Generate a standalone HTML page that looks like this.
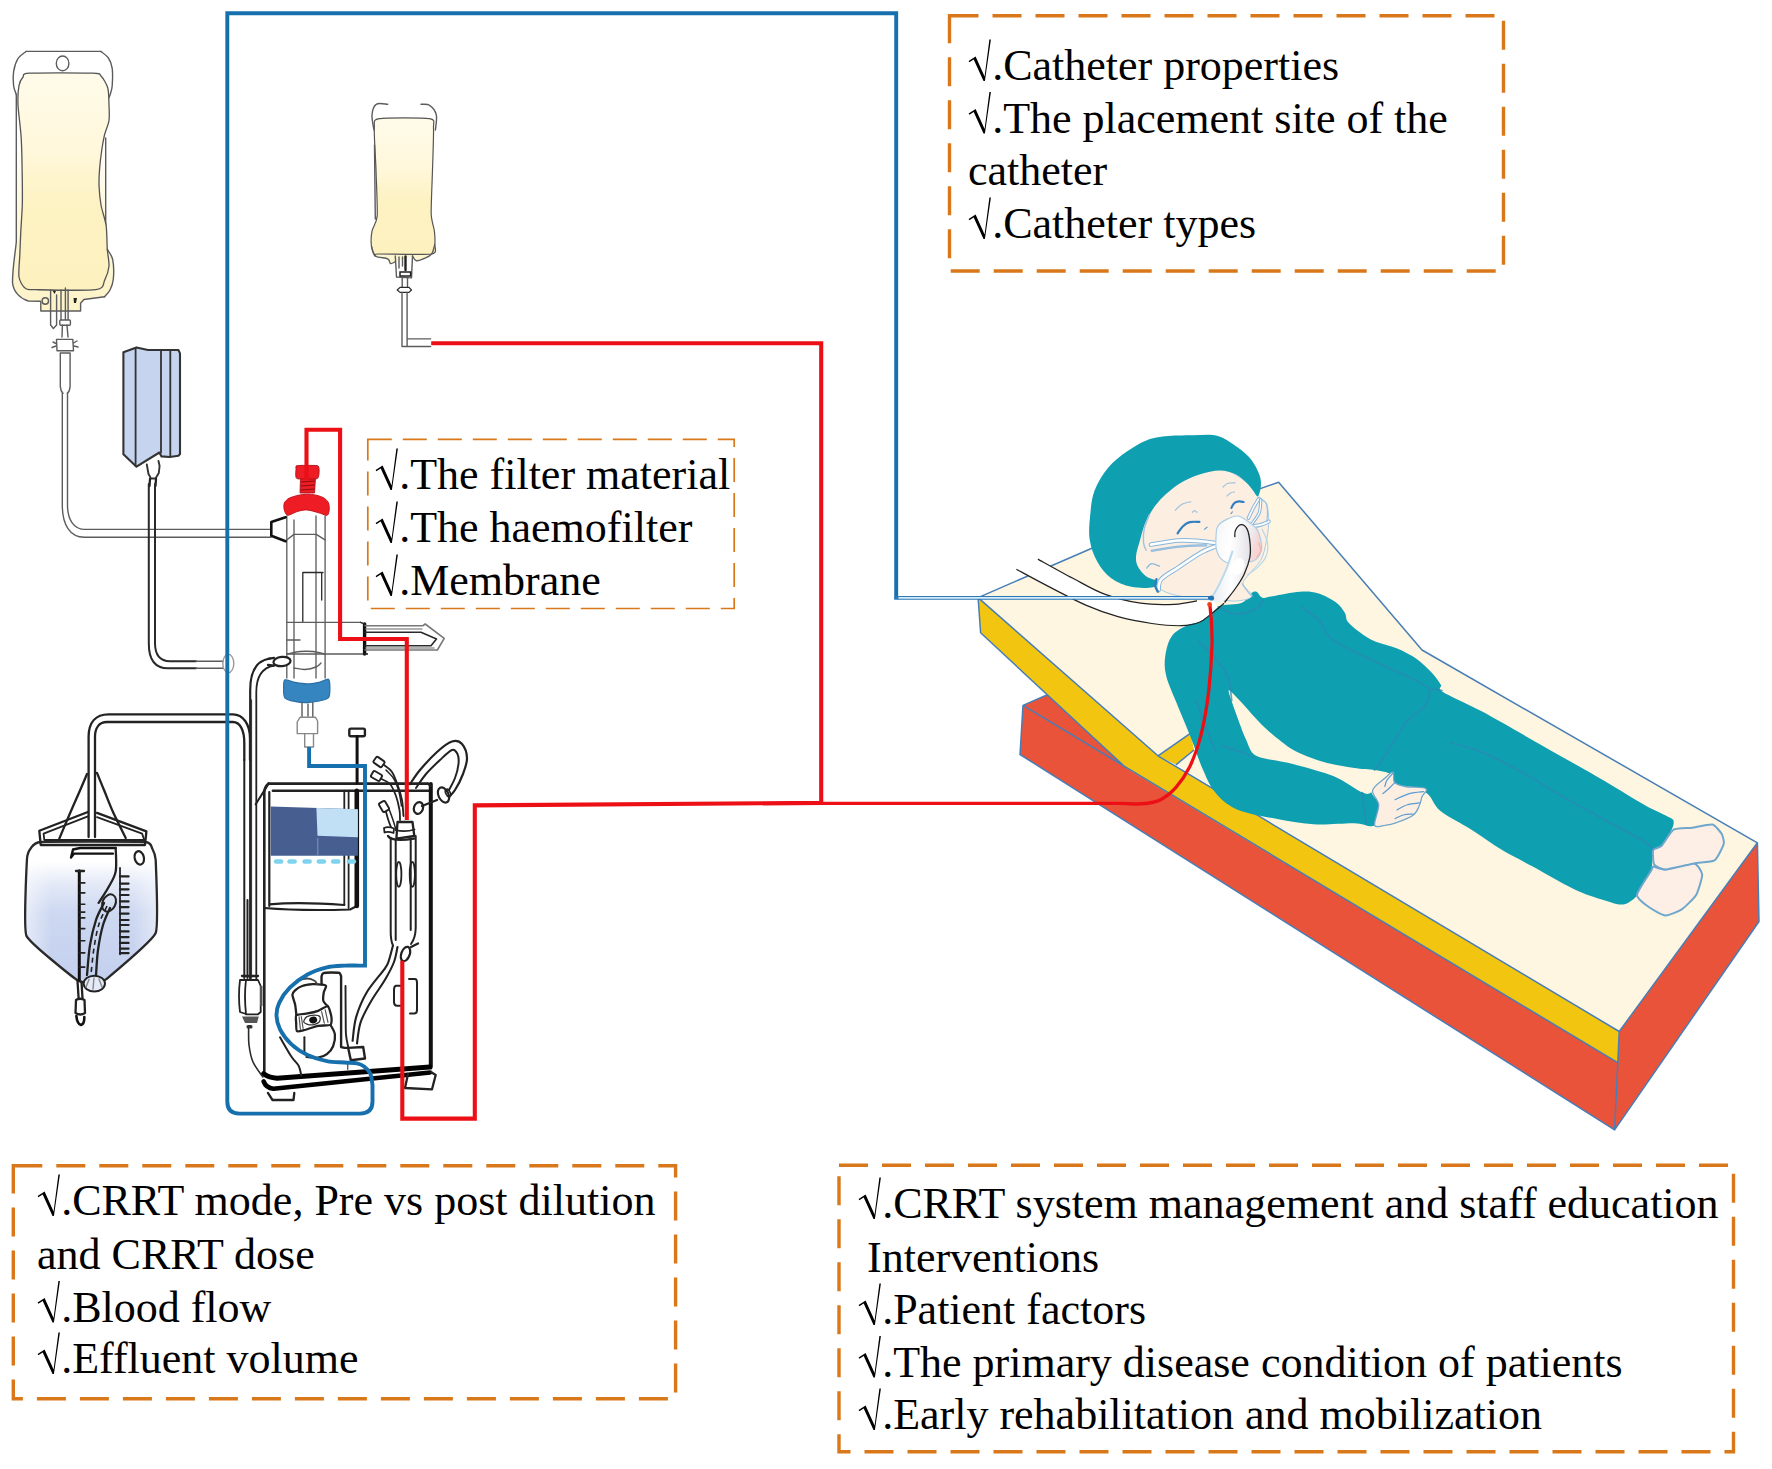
<!DOCTYPE html>
<html><head><meta charset="utf-8"><title>CRRT</title>
<style>
html,body{margin:0;padding:0;background:#fff;}
body{width:1772px;height:1469px;overflow:hidden;position:relative;font-family:"Liberation Serif",serif;}
svg{position:absolute;left:0;top:0;}
text{font-family:"Liberation Serif",serif;font-size:44px;fill:#000;}
.bx{fill:none;stroke:#d9781a;}
.k{fill:none;stroke:#2a2a2a;stroke-width:1.5;stroke-linecap:round;stroke-linejoin:round;}
.k2{fill:none;stroke:#222;stroke-width:2.3;stroke-linecap:round;stroke-linejoin:round;}
.k3{fill:none;stroke:#111;stroke-width:3.2;stroke-linecap:round;stroke-linejoin:round;}
.g{fill:none;stroke:#5c5c5c;stroke-width:1.4;stroke-linecap:round;stroke-linejoin:round;}
.bl{fill:none;stroke:#1770ae;stroke-width:3.9;stroke-linejoin:miter;}
.rd{fill:none;stroke:#ec1016;stroke-width:4.1;stroke-linejoin:miter;}
</style></head><body>
<svg width="1772" height="1469" viewBox="0 0 1772 1469">
<g id="bed"><path fill="#e9533a" d="M1023,705.4 L1047.4,694.8 L1160,760 L1126.4,768.2Z"/>
<path fill="#e9533a" d="M1023,705.4 L1617.8,1062.7 L1614.6,1129.9 L1020,754.5Z"/>
<path fill="#e9533a" d="M1619.2,1031.5 L1757.4,842.8 L1759,921.5 L1614.6,1129.9Z"/>
<path fill="#fef6e1" d="M1176,764.8 L1194,750 L1300,690 L1400,640 L1422,650 L1757.4,842.8 L1619.2,1031.5Z"/>
<path fill="#f2c511" d="M978.1,597.6 L1158,755.8 L1619.2,1031.5 L1617.8,1062.7 L1126.4,768.2 L980.6,632.8Z"/>
<path fill="#f2c511" d="M1158,755.8 L1190.7,733.2 L1194,750 L1176,764.8Z"/>
<path fill="#fef6e1" d="M978.1,597.6 L1100,544.7 L1278.6,482.2 L1422,650 L1300,690 L1190.7,733.2 L1158,755.8Z"/>
<path fill="none" stroke="#477eb7" stroke-width="1.5" stroke-linejoin="round" d="M978.1,597.6 L1100,544.7 L1278.6,482.2 L1422,650 L1757.4,842.8 L1619.2,1031.5 L1617.8,1062.7 L1614.6,1129.9 L1020,754.5 L1023,705.4 L1617.8,1062.7 M978.1,597.6 L1158,755.8 L1619.2,1031.5 M978.1,597.6 L980.6,632.8 L1126.4,768.2 M1023,705.4 L1047.4,694.8 M1757.4,842.8 L1759,921.5 L1614.6,1129.9 M1158,755.8 L1190.7,733.2 M1176,764.8 L1194,750"/></g>
<g id="patient"><path fill="#0e9fb0" d="M1217.4,606.8 C1225.9,603.4 1236.3,605 1241.9,602.7 C1247.5,600.5 1248.8,595.1 1251.2,593.3 C1253.6,591.5 1254.6,591.1 1256.5,591.8 C1258.4,592.5 1259.8,597 1262.5,597.7 C1265.2,598.4 1266.7,597.2 1272.9,596.2 C1279.1,595.2 1292.4,592.3 1299.9,591.8 C1307.4,591.3 1311.9,591.6 1317.9,593.3 C1323.9,595 1331.3,599 1335.8,602.2 C1340.3,605.4 1342.8,609.5 1344.8,612.7 C1346.8,616 1345.3,618.5 1347.8,621.7 C1350.3,625 1355.3,629 1359.8,632.2 C1364.3,635.5 1368.5,638.5 1374.7,641.2 C1380.9,643.9 1390.2,645.6 1397.2,648.6 C1404.2,651.6 1411,655.1 1416.7,659.1 C1422.4,663.1 1427.6,668.3 1431.6,672.6 C1435.6,676.9 1438.9,681.5 1440.8,684.7 C1442.7,687.9 1436.1,687.5 1442.9,691.9 C1449.7,696.3 1465,702.3 1481.7,711.3 C1498.4,720.3 1522.5,734.4 1542.9,746 C1563.3,757.6 1587.2,770.8 1604.2,780.7 C1621.2,790.6 1634.1,799.1 1645,805.2 C1655.9,811.3 1664.8,814.7 1669.6,817.4 C1674.4,820.1 1673.3,819.5 1673.6,821.5 C1673.9,823.5 1673.6,825.6 1671.6,829.7 C1669.6,833.8 1664.5,842.6 1661.4,846 C1658.3,849.4 1654.9,846 1653.2,850.1 C1651.5,854.2 1653.2,863.7 1651.2,870.5 C1649.2,877.3 1645.4,885.4 1641,891 C1636.6,896.6 1630.7,902.7 1624.6,904.2 C1618.5,905.7 1612.7,902.8 1604.2,900.2 C1595.7,897.7 1585.5,894.5 1573.6,888.9 C1561.7,883.3 1544.6,873 1532.7,866.5 C1520.8,860 1512.3,856.2 1502.1,850.1 C1491.9,844 1481.7,836.2 1471.5,829.7 C1461.3,823.2 1448.3,817.4 1440.8,811.3 C1433.3,805.2 1432.5,797.2 1426.5,793 C1420.5,788.8 1414,786.4 1405,786 C1396,785.6 1377,787.4 1372.6,790.5 C1368.2,793.6 1378.4,799 1378.7,804.8 C1379,810.6 1378.7,822.2 1374.6,825.3 C1370.5,828.4 1364.4,823.4 1354.2,823.2 C1344,823 1327,825.1 1313.4,824.2 C1299.8,823.4 1285.4,820.7 1272.5,818.1 C1259.6,815.5 1245.3,813.1 1235.8,808.9 C1226.3,804.6 1220.8,799.1 1215.3,792.6 C1209.8,786.1 1207.2,779.3 1203.1,770.1 C1199,760.9 1195.2,748.6 1190.8,737.4 C1186.4,726.2 1180.6,712.9 1176.5,702.7 C1172.4,692.5 1168.2,684 1166.3,676.2 C1164.4,668.4 1164.3,662.6 1165.3,655.8 C1166.3,649 1168.2,640.8 1172.5,635.3 C1176.8,629.8 1183.3,627.9 1190.8,623.1 C1198.3,618.4 1208.9,610.2 1217.4,606.8Z"/>
<path fill="#fef6e1" d="M1228.6,690.5 C1229.1,688.9 1235.1,695.8 1239.9,700.7 C1244.7,705.6 1257.3,720.7 1264.4,727.2 C1271.5,733.7 1285,745.1 1292.9,749.7 C1300.8,754.3 1315.4,759.5 1323.6,762 C1331.8,764.5 1347.4,767 1354.2,768.1 C1361,769.2 1369.8,769.2 1374.6,770.1 C1379.4,771 1390.3,772.1 1390,775 C1389.7,777.9 1375.7,789.7 1372,792 C1368.3,794.3 1367.5,794.7 1362.4,792.6 C1357.3,790.5 1343.1,780 1333.8,776.2 C1324.5,772.4 1303.2,766.7 1292.9,764 C1282.6,761.3 1262.5,759.1 1256.2,755.8 C1249.9,752.5 1248.7,745.2 1246,739.5 C1243.3,733.8 1238.1,719.4 1235.8,712.9 C1233.5,706.4 1228.1,692.1 1228.6,690.5Z"/>
<path fill="#fdeee2" stroke="#6fa6cc" stroke-width="1.3" d="M1372.6,790.5 C1373.6,786.1 1381.4,781.3 1384.8,778.3 C1388.2,775.2 1391.4,771.5 1393,772.2 C1394.6,772.9 1392.5,780 1394.6,782.4 C1396.6,784.8 1400.1,785.5 1405.3,786.5 C1410.5,787.5 1422.9,786.8 1425.7,788.5 C1428.5,790.2 1423,794 1422,796.7 C1421,799.4 1421,801.8 1419.6,804.8 C1418.2,807.8 1417.5,811.9 1413.4,815 C1409.3,818.1 1399.8,821.5 1395,823.2 C1390.2,824.9 1388.2,824.9 1384.8,825.3 C1381.4,825.6 1375.6,828.7 1374.6,825.3 C1373.6,821.9 1379,810.6 1378.7,804.8 C1378.4,799 1371.6,794.9 1372.6,790.5Z"/>
<path fill="none" stroke="#2c88b6" stroke-width="1.7" stroke-opacity="0.75" stroke-linecap="round" d="M1199,641.5 C1201,643.5 1206.5,647.9 1211.3,653.7 C1216.1,659.5 1224.2,668.4 1227.6,676.2 C1231,684 1231,696.6 1231.7,700.7"/>
<path fill="none" stroke="#2c88b6" stroke-width="1.7" stroke-opacity="0.75" stroke-linecap="round" d="M1301.1,606.8 C1304.2,609.2 1314.7,616 1319.5,621.1 C1324.3,626.2 1323.9,632.3 1329.7,637.4 C1335.5,642.5 1345,646.9 1354.2,651.7 C1363.4,656.5 1374.6,661.2 1384.8,666 C1395,670.8 1408,676.6 1415.5,680.3 C1423,684 1425.4,686.7 1429.8,688.4 C1434.2,690.1 1440,690.1 1442,690.5"/>
<path fill="none" stroke="#2c88b6" stroke-width="1.7" stroke-opacity="0.75" stroke-linecap="round" d="M1429.8,690.5 C1429.1,692.9 1429.8,699.3 1425.7,704.8 C1421.6,710.2 1410.4,717.4 1405.3,723.2 C1400.2,729 1399.1,733 1395,739.5 C1390.9,746 1384.2,756.9 1380.8,762 C1377.4,767.1 1375.6,768.8 1374.6,770.1"/>
<path fill="none" stroke="#2c88b6" stroke-width="1.7" stroke-opacity="0.75" stroke-linecap="round" d="M1451.1,742.9 C1456.2,744.4 1469.8,747.2 1481.7,752.1 C1493.6,757 1508.9,765 1522.5,772.5 C1536.1,780 1549.8,789.2 1563.4,797 C1577,804.8 1590.6,812 1604.2,819.5 C1617.8,827 1636.8,836.9 1645,842 C1653.2,847.1 1651.8,848.8 1653.2,850.1"/>
<path fill="none" stroke="#2c88b6" stroke-width="1.7" stroke-opacity="0.75" stroke-linecap="round" d="M1217.4,606.8 C1220.5,608 1229.3,613.6 1235.8,613.9 C1242.3,614.2 1251.6,611 1256.2,608.8 C1260.8,606.6 1262.1,602 1263.3,600.6"/>
<path fill="none" stroke="#2c88b6" stroke-width="1.7" stroke-opacity="0.75" stroke-linecap="round" d="M1362.4,792.6 C1362.7,795.7 1363.7,805.9 1364.4,811 C1365.1,816.1 1366.2,821.2 1366.5,823.2"/>
<path fill="none" stroke="#2c88b6" stroke-width="1.7" stroke-opacity="0.75" stroke-linecap="round" d="M1221.5,745.6 C1225.6,747 1240.6,751.8 1246,753.8 C1251.4,755.8 1252.8,757.2 1254.1,757.9"/>
<path fill="none" stroke="#2c88b6" stroke-width="1.7" stroke-opacity="0.75" stroke-linecap="round" d="M1196,700 C1197.5,704.2 1201.7,716.3 1205,725 C1208.3,733.7 1214.2,747.5 1216,752"/>
<path fill="none" stroke="#5b9bd0" stroke-width="1.2" stroke-linecap="round" d="M1395,782.4 C1394,783.4 1390.9,786.6 1388.9,788.5 C1386.9,790.4 1383.8,792.8 1382.8,793.6"/>
<path fill="none" stroke="#5b9bd0" stroke-width="1.2" stroke-linecap="round" d="M1423.6,791.6 C1421.2,791.9 1414.1,792.2 1409.3,793.6 C1404.5,795 1397.4,798.7 1395,799.7"/>
<path fill="none" stroke="#5b9bd0" stroke-width="1.2" stroke-linecap="round" d="M1419.6,802.8 C1417.5,803.1 1411,803.6 1407.3,804.8 C1403.5,806 1398.8,809 1397.1,809.9"/>
<path fill="none" stroke="#5b9bd0" stroke-width="1.2" stroke-linecap="round" d="M1413.4,814 C1411.7,814.2 1406.3,814.2 1403.2,815 C1400.1,815.8 1396.4,818.1 1395,818.7"/>
<path fill="none" stroke="#5b9bd0" stroke-width="1.2" stroke-linecap="round" d="M1393,773.2 C1392,774.4 1388.3,778.1 1386.9,780.3 C1385.5,782.5 1385.2,785.5 1384.8,786.5"/>
<path fill="#fdeee6" stroke="#6fa6cc" stroke-width="2" d="M1653.2,866.5 C1654.5,866.4 1661.7,869.8 1665.5,869.5 C1669.3,869.2 1690.6,862.9 1694,863.4 C1697.4,863.9 1702,871.7 1702.2,874.6 C1702.4,877.5 1698,891.8 1696.1,895 C1694.2,898.2 1684.7,907.4 1681.8,909.3 C1678.9,911.2 1668.6,915.7 1665.5,915.5 C1662.4,915.3 1651.8,909.2 1649.1,907.3 C1646.4,905.4 1636.7,898.4 1636.9,895 C1637.1,891.6 1649.7,873.2 1651.2,870.5 C1652.7,867.8 1651.9,866.6 1653.2,866.5Z"/>
<path fill="#fdeee6" stroke="#6fa6cc" stroke-width="2" d="M1673.6,829.7 C1676.5,828 1688.4,828.2 1692,827.7 C1695.6,827.2 1709.6,824 1712.4,824.6 C1715.2,825.2 1720.5,832 1721.6,833.8 C1722.7,835.6 1724.4,841.5 1723.7,844 C1723,846.5 1717.3,858.5 1714.5,860.3 C1711.7,862.1 1698.6,862.5 1694,863.4 C1689.4,864.3 1669.2,869.4 1665.5,869.5 C1661.8,869.6 1655.3,866.2 1654.2,864.4 C1653.1,862.6 1652.5,851.8 1653.2,850.1 C1653.9,848.4 1659.5,847.9 1661.4,846 C1663.3,844.1 1670.7,831.4 1673.6,829.7Z"/></g>
<g id="head"><path fill="#fdeee2" stroke="#a9cde6" stroke-width="1" d="M1146.3,515.3 C1152.9,505.5 1166.7,489 1178.9,481.3 C1191.2,473.6 1208.5,468.8 1219.8,469 C1231.1,469.2 1240.5,478.1 1247,482.6 C1253.5,487.2 1255.3,492.7 1258.6,496.3 C1261.9,499.9 1265.1,499.9 1266.8,504.4 C1268.5,508.9 1268.7,517.1 1268.6,523.5 C1268.5,529.9 1267.4,536.5 1266.1,542.6 C1264.8,548.7 1263.9,554.6 1260.7,560.3 C1257.5,566 1249.9,572.5 1247,576.6 C1244.1,580.7 1242.4,581.5 1243.2,584.8 C1244,588.1 1253.4,593.7 1251.8,596.4 C1250.2,599.1 1241,601 1233.4,601.1 C1225.8,601.2 1214.1,597.7 1206.2,597 C1198.3,596.3 1192.6,597.9 1185.8,597 C1179,596.1 1171,594.4 1165.3,591.9 C1159.6,589.4 1156.2,586.1 1151.7,582.1 C1147.2,578.1 1140.8,572.1 1138.1,567.8 C1135.4,563.5 1135.2,560.9 1135.4,556.2 C1135.6,551.5 1137.7,546.6 1139.5,539.8 C1141.3,533 1139.7,525 1146.3,515.3Z"/>
<path fill="none" stroke="#9cc4e0" stroke-width="1.2" d="M1241.9,583.4 C1242.5,584.3 1244.1,586.7 1245.7,588.9 C1247.3,591.1 1250.8,595.1 1251.8,596.4"/>
<path fill="#0e9fb0" d="M1146.3,440.4 C1152.6,437.9 1157.6,437.1 1165.3,436.3 C1173,435.5 1184,435.4 1192.6,435.3 C1201.2,435.2 1209.6,433.7 1217.1,435.7 C1224.6,437.7 1231.8,443.2 1237.5,447.2 C1243.2,451.2 1247.5,454.9 1251.1,459.5 C1254.7,464.1 1257.7,470.2 1259.3,474.5 C1260.9,478.8 1261.1,481.8 1260.9,485.4 C1260.7,489 1259.2,495.4 1257.9,496.3 C1256.6,497.2 1255,493 1253.2,490.8 C1251.4,488.6 1249.8,486 1247,483.3 C1244.2,480.6 1240.6,476.6 1236.1,474.5 C1231.6,472.4 1225.9,470.4 1219.8,470.4 C1213.7,470.4 1206.2,472.2 1199.4,474.5 C1192.6,476.8 1185.7,479.5 1178.9,484 C1172.1,488.5 1163.9,495.6 1158.5,501.7 C1153.1,507.8 1149.4,514.4 1146.3,520.8 C1143.2,527.1 1141.8,533.9 1140.1,539.8 C1138.4,545.7 1136.3,551.7 1136,556.2 C1135.7,560.8 1136.4,563.7 1138.1,567.1 C1139.8,570.5 1143.1,574.2 1146.3,576.6 C1149.5,579 1156.1,579.6 1157.2,581.4 C1158.3,583.2 1157.4,586.3 1153.1,587.2 C1148.8,588.1 1138.3,588.3 1131.3,586.8 C1124.3,585.3 1116.6,582.2 1110.9,578 C1105.2,573.8 1100.7,568 1097.2,561.6 C1093.7,555.2 1090.9,547.5 1089.7,539.8 C1088.5,532.1 1089.4,523.5 1090.2,515.3 C1091,507.1 1091.5,498.7 1094.5,490.8 C1097.5,482.9 1102.6,474.3 1108.1,467.7 C1113.5,461.1 1120.8,455.9 1127.2,451.3 C1133.6,446.8 1140,442.9 1146.3,440.4Z"/>
<path fill="none" stroke="#8ab9dc" stroke-width="1.3" d="M1146.3,568.4 C1147.2,567.6 1149.4,564 1151.7,563.7 C1154,563.4 1158.5,566 1159.9,566.4"/>
<path fill="none" stroke="#9cc4e0" stroke-width="1.2" d="M1174.9,510.6 C1176,509.6 1179,505.9 1181.7,504.4 C1184.4,502.9 1189.6,502.1 1191.2,501.7"/>
<path fill="none" stroke="#9cc4e0" stroke-width="1.2" d="M1222.5,487.4 C1223.4,486.7 1225.8,484.1 1228,483.3 C1230.2,482.6 1234.2,483 1235.5,482.9"/>
<path fill="none" stroke="#9cc4e0" stroke-width="1.1" d="M1226.6,496.3 C1227.3,495.7 1229.3,493.6 1230.7,492.9 C1232.1,492.2 1234.1,492.1 1234.8,491.9"/>
<path fill="none" stroke="#2f7fc0" stroke-width="2.2" stroke-linecap="round" d="M1177.6,533.3 C1178.5,532.1 1181,528.1 1183,526.2 C1185,524.3 1187.1,522.8 1189.8,522.1 C1192.5,521.4 1197.8,521.9 1199.4,521.9"/>
<path fill="none" stroke="#2f7fc0" stroke-width="2.2" stroke-linecap="round" d="M1231.4,507.8 C1231.9,507.1 1232.8,504.4 1234.1,503.3 C1235.3,502.2 1237.3,501.6 1238.9,501.4 C1240.5,501.2 1242.8,501.9 1243.6,502"/>
<path fill="none" stroke="#5a9bd0" stroke-width="1.2" d="M1230.7,514 L1232.7,511.5"/>
<path fill="none" stroke="#5a9bd0" stroke-width="1.2" d="M1204.1,529.6 L1207.5,526.9"/>
<path fill="none" stroke="#9cc4e0" stroke-width="1.1" d="M1191.9,512.6 C1192.4,512.3 1193.7,510.6 1194.6,510.6 C1195.5,510.6 1196.8,512.3 1197.3,512.6"/>
<path fill="none" stroke="#86b6dc" stroke-width="3.6" stroke-linecap="round" d="M1248.4,518.1 C1249.3,516.3 1252.1,510.4 1253.8,507.2 C1255.5,504 1257.8,500.4 1258.6,499"/>
<path fill="none" stroke="#ffffff" stroke-width="1.6" stroke-linecap="round" d="M1248.4,518.1 C1249.3,516.3 1252.1,510.4 1253.8,507.2 C1255.5,504 1257.8,500.4 1258.6,499"/>
<path fill="none" stroke="#86b6dc" stroke-width="3.2" stroke-linecap="round" d="M1251.1,524.9 C1252.5,522.9 1257.7,516.8 1259.3,512.6 C1260.9,508.4 1260.5,501.9 1260.7,499.7"/>
<path fill="none" stroke="#ffffff" stroke-width="1.2000000000000002" stroke-linecap="round" d="M1251.1,524.9 C1252.5,522.9 1257.7,516.8 1259.3,512.6 C1260.9,508.4 1260.5,501.9 1260.7,499.7"/>
<path fill="none" stroke="#86b6dc" stroke-width="4" stroke-linecap="round" d="M1252.5,526.2 C1253.9,526 1258,525.7 1260.7,524.9 C1263.4,524.1 1267.5,522.1 1268.8,521.5"/>
<path fill="none" stroke="#ffffff" stroke-width="2" stroke-linecap="round" d="M1252.5,526.2 C1253.9,526 1258,525.7 1260.7,524.9 C1263.4,524.1 1267.5,522.1 1268.8,521.5"/>
<path fill="none" stroke="#9cc4e0" stroke-width="1.2" d="M1260.7,499.7 C1261.6,500.3 1265,501 1266.1,503.1 C1267.2,505.2 1267.4,509.4 1267.5,512.6 C1267.6,515.8 1266.9,520.5 1266.8,522.1"/>
<path fill="none" stroke="#86b6dc" stroke-width="4.6" stroke-linecap="round" d="M1151,544.6 C1155.7,543.9 1170.6,541.1 1178.9,540.5 C1187.2,539.9 1194.3,540.8 1200.7,541.2 C1207.1,541.7 1214.4,542.9 1217.1,543.2"/>
<path fill="none" stroke="#ffffff" stroke-width="2.5999999999999996" stroke-linecap="round" d="M1151,544.6 C1155.7,543.9 1170.6,541.1 1178.9,540.5 C1187.2,539.9 1194.3,540.8 1200.7,541.2 C1207.1,541.7 1214.4,542.9 1217.1,543.2"/>
<path fill="none" stroke="#86b6dc" stroke-width="4.6" stroke-linecap="round" d="M1158.5,590.2 C1159,588.4 1157.8,583.1 1161.2,579.3 C1164.6,575.4 1172.3,571.5 1178.9,567.1 C1185.5,562.7 1194.5,556.3 1200.7,552.8 C1207,549.3 1213.8,547.1 1216.4,546"/>
<path fill="none" stroke="#ffffff" stroke-width="2.5999999999999996" stroke-linecap="round" d="M1158.5,590.2 C1159,588.4 1157.8,583.1 1161.2,579.3 C1164.6,575.4 1172.3,571.5 1178.9,567.1 C1185.5,562.7 1194.5,556.3 1200.7,552.8 C1207,549.3 1213.8,547.1 1216.4,546"/>
<path fill="none" stroke="#86b6dc" stroke-width="2.2" stroke-linecap="round" d="M1151.7,550.7 C1156.2,550 1169.8,547.6 1178.9,546.7 C1188,545.8 1201.7,545.5 1206.2,545.3"/>
<path fill="none" stroke="#ffffff" stroke-width="0.20000000000000018" stroke-linecap="round" d="M1151.7,550.7 C1156.2,550 1169.8,547.6 1178.9,546.7 C1188,545.8 1201.7,545.5 1206.2,545.3"/>
<path fill="none" stroke="#9cc4e0" stroke-width="1.4" d="M1149.7,514 C1148.8,516.5 1145.2,524.1 1144.2,528.9 C1143.2,533.7 1143.2,539 1143.5,542.6 C1143.8,546.2 1145.8,549.4 1146.3,550.7"/>
<path fill="none" stroke="#2f7fc0" stroke-width="2.4" stroke-linecap="round" d="M1156.5,579.3 C1156.3,580.3 1154.9,583.5 1155.1,585.5 C1155.3,587.5 1157.3,590.6 1157.8,591.6"/>
<defs><linearGradient id="mk" x1="0" y1="0" x2="1" y2="0.3"><stop offset="0" stop-color="#f4f4f6"/><stop offset="0.45" stop-color="#ffffff"/><stop offset="0.8" stop-color="#ececf0"/><stop offset="1" stop-color="#f6d5d2"/></linearGradient></defs>
<path fill="url(#mk)" stroke="#a9cde6" stroke-width="1.2" d="M1217.8,526.2 C1219.6,523.2 1223.3,521.1 1226.6,519.4 C1229.9,517.7 1234.1,515.8 1237.5,516 C1240.9,516.2 1243.8,518.6 1247,520.8 C1250.2,522.9 1254.3,525.7 1256.6,528.9 C1258.9,532.1 1259.9,536.2 1260.7,539.8 C1261.5,543.4 1262,547.5 1261.3,550.7 C1260.6,553.9 1258.5,557.1 1256.6,558.9 C1254.7,560.7 1251.6,562 1249.8,561.6 C1248,561.2 1247.8,557.1 1245.7,556.2 C1243.7,555.3 1240,555.1 1237.5,556.2 C1235,557.3 1233.4,562.5 1230.7,563 C1228,563.5 1223.6,561.2 1221.2,558.9 C1218.8,556.6 1217.3,553 1216.4,549.4 C1215.5,545.8 1215.8,541 1216,537.1 C1216.2,533.2 1216,529.2 1217.8,526.2Z"/>
<path fill="none" stroke="#b7d6ea" stroke-width="1.2" d="M1262,528.9 C1262.9,531.2 1266.8,538 1267.5,542.6 C1268.2,547.2 1267.7,552.1 1266.1,556.2 C1264.5,560.3 1261.1,563.9 1257.9,567.1 C1254.7,570.3 1248.8,573.9 1247,575.2"/>
<path fill="none" stroke="#f0b8b8" stroke-width="1.5" d="M1258.6,542.6 C1258.9,544 1261,548.2 1260.7,550.7 C1260.4,553.2 1257.3,556.4 1256.6,557.5"/>
<defs><linearGradient id="tb" x1="0" y1="0" x2="1" y2="0"><stop offset="0" stop-color="#e9edf2"/><stop offset="0.5" stop-color="#ffffff"/><stop offset="1" stop-color="#e3e3e8"/></linearGradient></defs>
<path fill="url(#tb)" d="M1235.5,528.9 C1237,526.9 1240.4,524.4 1242.3,524.9 C1244.2,525.4 1245.8,528.3 1247,531.7 C1248.2,535.1 1249.3,540.3 1249.5,545.3 C1249.7,550.3 1249.5,556.1 1248.4,561.6 C1247.3,567.1 1245.5,573 1243,578 C1240.5,583 1236.8,587.8 1233.4,591.6 C1230,595.5 1225.9,599.5 1222.5,601.1 C1219.1,602.7 1213.7,603.4 1213,601.1 C1212.3,598.8 1216.1,592.7 1218.4,587.5 C1220.7,582.3 1224.3,575.9 1226.6,569.8 C1228.9,563.7 1231,556.2 1232.1,550.7 C1233.2,545.2 1232.8,540.7 1233.4,537.1 C1234,533.5 1234,530.9 1235.5,528.9Z"/>
<ellipse cx="1238.1873893504016" cy="566.3979300013618" rx="6" ry="8.5" fill="#ffffff" transform="rotate(20 1238.1873893504016 566.3979300013618)"/>
<path fill="none" stroke="#b9d9ee" stroke-width="2" d="M1232.7,550.7 C1231.7,553.7 1228.8,563 1226.6,568.4 C1224.4,573.8 1222.1,578.8 1219.8,583.4 C1217.5,588 1214.1,593.7 1213,595.7"/>
<path fill="#ffffff" d="M1037.9,559.1 C1043.7,562.3 1061.8,572.5 1072.9,578.3 C1084,584.1 1093.2,590 1104.5,594.1 C1115.8,598.2 1128.9,601.5 1140.6,603.2 C1152.3,604.9 1165.1,604.7 1174.5,604.3 C1183.9,603.9 1193.2,601.5 1197,600.9 L1214,601 L1218,607 L1210.6,614.4 L1199.3,622.3 L1181.2,625.7 L1151.9,623.5 L1118,616.7 L1086.4,605.4 L1050.3,587.4 L1016.4,569.3 Z"/>
<path fill="none" stroke="#222" stroke-width="1.2" d="M1037.9,559.1 C1043.7,562.3 1061.8,572.5 1072.9,578.3 C1084,584.1 1093.2,590 1104.5,594.1 C1115.8,598.2 1128.9,601.5 1140.6,603.2 C1152.3,604.9 1165.1,604.7 1174.5,604.3 C1183.9,603.9 1193.2,601.5 1197,600.9"/>
<path fill="none" stroke="#222" stroke-width="1.2" d="M1016.4,569.3 C1022,572.3 1038.6,581.4 1050.3,587.4 C1062,593.4 1075.1,600.5 1086.4,605.4 C1097.7,610.3 1107.1,613.7 1118,616.7 C1128.9,619.7 1141.4,622 1151.9,623.5 C1162.4,625 1173.3,625.9 1181.2,625.7 C1189.1,625.5 1194.4,624.2 1199.3,622.3 C1204.2,620.4 1206.5,617.6 1210.6,614.4 C1214.7,611.2 1221.8,605.1 1224.1,603.2"/>
<path fill="none" stroke="#222" stroke-width="1.3" d="M1234.8,537.1 C1234.9,536 1234.5,532.4 1235.5,530.3 C1236.5,528.2 1239,524.8 1240.9,524.6 C1242.8,524.4 1245.5,525.9 1247,528.9 C1248.5,531.9 1249.5,537.8 1250,542.6 C1250.5,547.4 1250.8,552.3 1249.8,557.5 C1248.8,562.7 1246.6,568.9 1244.3,573.9 C1242,578.9 1239.4,582.7 1236.1,587.5 C1232.8,592.3 1226.5,600 1224.6,602.5"/></g>
<g id="bags"><defs><linearGradient id="yl" x1="0" y1="0" x2="0" y2="1"><stop offset="0" stop-color="#fffbe9"/><stop offset="0.35" stop-color="#fff8dc"/><stop offset="0.6" stop-color="#fdf2c2"/><stop offset="1" stop-color="#fdf1c0"/></linearGradient></defs>
<defs><linearGradient id="yo" gradientUnits="userSpaceOnUse" x1="0" y1="51" x2="0" y2="311"><stop offset="0" stop-color="#ffffff"/><stop offset="0.32" stop-color="#ffffff"/><stop offset="0.6" stop-color="#fef8de"/><stop offset="1" stop-color="#fdf3c8"/></linearGradient></defs>
<path fill="url(#yo)" d="M26.1,51.4 L100.8,51.4 L108.5,58 L112.2,68.3 L112.2,91.2 L107.8,98.8 L105.7,138 L105.7,249 L112.7,259.7 L113.3,279.3 L110,290 L104.6,296.7 L83.9,299.5 L80.6,303.3 L80.6,311 L40.8,311 L40.8,301.5 L28.3,301 L17,294 L12.5,282.6 L14,262 L16.3,242 L16.3,94.5 L13.6,85 L13.6,71.6 L18,58.5Z"/>
<path class="g" d="M16.3,94.5 C15.9,93 14.1,89.6 13.6,85.8 C13.1,82 12.9,76.1 13.6,71.6 C14.3,67 15.9,61.9 18,58.5 C20.1,55.1 24.8,52.6 26.1,51.4"/>
<path class="g" d="M26.1,51.4 L100.8,51.4"/>
<path class="g" d="M100.8,51.4 C102.1,52.5 106.5,55.2 108.4,58 C110.3,60.8 111.6,63.7 112.2,68.3 C112.8,72.9 112.5,81.4 112.2,85.8 C111.9,90.2 110.9,92.2 110.2,94.5 C109.5,96.8 108.2,98.6 107.8,99.4"/>
<path class="g" d="M16.3,94.5 L16.3,242 C15,255 12.5,268 12.5,282.6 C13.5,292 20,298.5 28.3,301 L40.3,301.3"/>
<path class="g" d="M105.7,138 L105.7,249"/>
<path fill="url(#yl)" stroke="#555" stroke-width="1.3" stroke-linejoin="round" d="M30,73.2 C39.3,72.7 83.1,72.8 92.6,73.2 C102.1,73.6 99,74 101,76 C103,78 106.7,84.1 107.8,88 C108.9,91.9 108.8,100.7 109,105 C109.2,109.3 109.6,116.6 109,120.6 C108.4,124.6 105.4,131.2 104.5,135 C103.6,138.8 102.6,144.3 101.9,149 C101.2,153.7 99.9,164.9 99.5,170 C99.1,175.1 98.9,182.3 99.1,187 C99.3,191.7 100.1,199.8 101,205 C101.9,210.2 105.4,220.1 106.2,226 C107,231.9 106.9,244.1 107.3,249.4 C107.7,254.7 109.4,261.9 109,266 C108.6,270.1 106.3,277.2 104.6,280.4 C102.9,283.6 105,288.5 95.9,289.7 C86.8,290.9 45.5,289.9 36,289.7 C26.5,289.5 27.3,289.7 25,288 C22.7,286.3 19.7,281.4 19,277 C18.3,272.6 19.6,260.8 19.8,255 C20,249.2 20.4,240.3 20.7,233.6 C21,226.9 22.1,211.9 22.3,205 C22.5,198.1 22.4,190.5 22.3,181.6 C22.2,172.7 21.8,148.2 21.2,138 C20.6,127.8 18.3,112 18,105 C17.7,98 18.3,89.4 19,85.7 C19.7,82 21.5,78.7 23,77 C24.5,75.3 20.7,73.7 30,73.2Z"/>
<ellipse cx="62.6" cy="63.4" rx="6.3" ry="7.4" class="g"/>
<path class="g" d="M107.3,249.4 C108.2,251.1 111.7,254.7 112.7,259.7 C113.7,264.7 113.8,274.2 113.3,279.3 C112.8,284.4 111.5,287.1 110,290 C108.5,292.9 105.5,295.6 104.6,296.7"/>
<path class="g" d="M104.6,296.7 L83.9,299.5 L80.6,303.3 L80.6,311 L40.8,311 L40.8,301.5"/>
<circle cx="45.3" cy="301" r="3.2" class="g"/>
<path class="g" d="M50.6,290 V325 L53.4,328.5 L56.6,325 V295"/>
<path class="g" d="M61,290 V320 M65.4,288 V320 M68.1,290 V320"/>
<path fill="#222" d="M52.5,290.5 L56,291 L54.5,294 Z"/>
<path fill="#222" d="M73.5,298 L77,298 L76,303 L74,303 Z"/>
<rect x="59.8" y="320" width="10.6" height="5.2" rx="1" style="fill:#fff" class="g"/>
<path class="g" d="M62.4,325.3 L62,337 M67,325.3 L68,337"/>
<path class="g" d="M56.5,339.4 L72.8,339.4 L73.5,350.8 L57,350.8 Z"/>
<path class="g" d="M53,342 L56,343.5 M52,347.5 L56,346 M73.5,343 L77,341 M74,346 L78,347"/>
<path class="g" d="M60.3,353 V386 Q60.5,391 63,393.3 M70.1,353 V386 Q70,391 67.4,393.3 M60.3,353 H70.1"/>
<path class="g" d="M62.3,393 V505 C62.3,525 70,537.3 84.5,537.3 H271"/>
<path class="g" d="M67.5,393 V505 C67.5,520 74,529.4 85,529.4 H271"/>
<path fill="#c6d4f0" stroke="#333" stroke-width="2.1" stroke-linejoin="round" d="M123.4,352.3 L136.5,347.4 L148,350 L161.5,350 L170.8,350 L178.4,350 L180,353.4 L180,454 L178.4,455.8 L169.7,457 L161.5,456.4 L159.4,452.5 L136.5,466.7 L123.4,454.2Z"/>
<path style="stroke-width:1.8;stroke:#333" class="k2" d="M135.6,348 V466 M161,350 V452.5 M170.3,350 V456"/>
<path style="stroke-width:1.9;stroke:#333" class="k2" d="M146.8,464.5 L148.5,474 L151,478.5 L155.5,478.5 L158.8,473 L159.6,466 L158.5,461"/>
<path class="k2" d="M150,479 L149.5,486 M156,479 L155.5,486"/>
<path style="stroke-width:2;stroke:#2a2a2a" class="k2" d="M148.8,484 V643.5 C148.8,660 155,668.3 168,668.3 H196"/>
<path style="stroke-width:2;stroke:#2a2a2a" class="k2" d="M155,484 V643 C155,655 160,661.2 170,661.2 H196"/>
<path class="g" d="M196,661.2 H223 M196,668.3 H223"/>
<ellipse cx="228.3" cy="663.5" rx="5.5" ry="9.2" style="stroke:#999" class="g"/>
<path fill="#fdf5d0" d="M372,235 L371.5,246.4 L375.3,256 L387.7,258.8 L390.5,263.6 L395.3,261.7 L412.5,256 L416.3,260.7 L424,258.5 L431.6,254 L434.8,244.5 L434.4,232 Z"/>
<path fill="url(#yl)" stroke="#555" stroke-width="1.2" stroke-linejoin="round" d="M379.1,118.6 C385.6,117.5 423.3,117.5 429.6,118.6 C435.9,119.7 433.2,122 433.5,128 C433.8,134 432.8,160 432.5,170 C432.2,180 431,206.9 431.2,214 C431.4,221.1 434,227.4 434.4,231 C434.8,234.6 435.1,241.8 434.8,244.5 C434.5,247.2 438.2,252.9 431.6,254 C425,255.1 384.6,253.8 378,254 C371.4,254.2 376.1,256.9 375.3,256 C374.5,255.1 371.9,249.3 371.5,246.4 C371.1,243.5 371.3,234.7 372,231.1 C372.7,227.5 376.7,223 377.2,215.9 C377.7,208.8 376.3,180.3 376,170 C375.7,159.7 373.9,134 374.3,128 C374.7,122 372.6,119.7 379.1,118.6Z"/>
<path class="g" d="M387.7,104.3 C385.8,104.3 378.8,102.5 376.2,104.3 C373.6,106 372.4,110.5 372,114.8 C371.6,119.1 373.7,127.5 374,130"/>
<path class="g" d="M421,104.3 C422.4,104.5 427.1,103.5 429.6,105.3 C432.2,107 435.3,110.7 436.3,114.8 C437.3,118.9 435.5,127.5 435.4,130"/>
<path class="g" d="M374.5,145 L375.3,219"/>
<path class="g" d="M371.5,246.4 C372.1,248 372.6,253.9 375.3,256 C378,258.1 385.2,257.5 387.7,258.8 C390.2,260.1 389.2,263.1 390.5,263.6 C391.8,264.1 394.5,262 395.3,261.7"/>
<path class="g" d="M434.8,244.5 C434.3,246.1 433.4,251.7 431.6,254 C429.8,256.3 426.6,257.4 424,258.5 C421.4,259.6 418.2,261.1 416.3,260.7 C414.4,260.3 413.1,256.8 412.5,256"/>
<path class="g" d="M395.3,256 L396.5,277 L411.5,277.9 L412.5,256"/>
<path class="g" d="M399,257 V268 M402.5,257 V266"/>
<path style="stroke-width:2.4" class="k2" d="M405.5,256.5 V270"/>
<rect x="400" y="272" width="10.6" height="4" fill="#fff" stroke="#222" stroke-width="1.5"/>
<path class="g" d="M402.2,278 V287.4 M407.5,278 V287.4"/>
<path style="stroke-width:1.2" class="k" d="M397.2,290 L400,287.4 L409,287.4 L411.5,290 L409,292.4 L400,292.4 Z"/>
<path class="g" d="M402,292.4 V346.5 M407.1,292.4 V346.5 M407.1,338.9 H430.6 M402,346.5 H430.6"/></g>
<g id="eff"><defs><linearGradient id="eb" x1="0" y1="0" x2="0" y2="1"><stop offset="0" stop-color="#ffffff"/><stop offset="0.14" stop-color="#ffffff"/><stop offset="0.3" stop-color="#e3e9f7"/><stop offset="0.5" stop-color="#cdd8f1"/><stop offset="1" stop-color="#c3d0ee"/></linearGradient><linearGradient id="eb2" x1="0" y1="0" x2="1" y2="0"><stop offset="0" stop-color="#fff" stop-opacity="0.5"/><stop offset="0.2" stop-color="#fff" stop-opacity="0"/><stop offset="0.82" stop-color="#fff" stop-opacity="0"/><stop offset="1" stop-color="#fff" stop-opacity="0.45"/></linearGradient></defs>
<path fill="url(#eb)" d="M40.7,842 C47.5,841.6 138.3,841.6 145,842 C151.7,842.4 151.4,846.9 152,848 C152.6,849.1 155.5,854.9 155.7,860 C155.9,865.1 158.6,925.9 155.7,933 C152.8,940.1 110.7,975.5 107,978.6 C103.3,981.7 95.8,983.9 94,984 C92.2,984.1 81.1,982.9 77,980 C72.9,977.1 29.4,943 26.4,935.7 C23.4,928.4 26.7,863.9 27,858.6 C27.3,853.3 30.2,849 31,848 C31.8,847 33.9,842.4 40.7,842Z"/>
<path fill="url(#eb2)" stroke="#2a2a2a" stroke-width="2.3" stroke-linejoin="round" d="M40.7,842 C47.5,841.6 138.3,841.6 145,842 C151.7,842.4 151.4,846.9 152,848 C152.6,849.1 155.5,854.9 155.7,860 C155.9,865.1 158.6,925.9 155.7,933 C152.8,940.1 110.7,975.5 107,978.6 C103.3,981.7 95.8,983.9 94,984 C92.2,984.1 81.1,982.9 77,980 C72.9,977.1 29.4,943 26.4,935.7 C23.4,928.4 26.7,863.9 27,858.6 C27.3,853.3 30.2,849 31,848 C31.8,847 33.9,842.4 40.7,842Z"/>
<path class="k2" d="M88.6,837 V737 C88.6,722 96,714.3 108.6,714.3 H232.9 C243,714.3 250,724 250,738.6 V760"/>
<path class="k2" d="M95,837 V737 C95,728 99,722 107,722 H232.9 C240,722 244.3,730 244.3,742.9 V760"/>
<path class="k2" d="M87,774 C85.5,777.5 81.2,787.7 78,795 C74.8,802.3 71.1,810.7 68,818 C64.9,825.3 60.8,835.2 59.3,838.6"/>
<path class="k2" d="M97,772.9 C98.2,775.8 101.3,783.5 104,790 C106.7,796.5 109.4,804 113,812 C116.6,820 123.6,833.6 125.7,837.9"/>
<path class="k2" d="M87.9,812 L39.3,830.7 L40.7,845 H145 L146.4,831.4 L97,812.9"/>
<path style="stroke-width:1.8" class="k2" d="M87.9,816.4 L43.6,833.6 L44.3,840 H144.3 L142.1,833.6 L97,817.1"/>
<ellipse cx="139.3" cy="857.9" rx="4.6" ry="6.8" fill="#fff" stroke="#222" stroke-width="2.2" transform="rotate(-15 139.3 857.9)"/>
<path style="stroke-width:2.4" class="k3" d="M112.9,853.6 H74 L71,857.5 L73,849.5 L80,848 H115.7"/>
<path class="k2" d="M115.7,847.9 C115.7,851.8 116.9,864.9 115.7,871.4 C114.5,877.9 111.4,881.8 108.6,887 C105.8,892.2 100.3,900.2 98.6,902.9"/>
<path style="stroke-width:3" class="k3" d="M79.3,870.7 V980"/>
<path class="k2" d="M76,871 H84"/>
<path style="stroke-width:1.6" class="k2" d="M79.3,882.9 h5.5 M79.3,892.9 h5.5 M79.3,904.3 h5.5 M79.3,912.1 h5.5 M79.3,917.9 h5.5 M79.3,928.6 h5.5 M79.3,940.7 h5.5 M79.3,952.9 h5.5 M79.3,967.1 h5.5"/>
<path style="stroke-width:1.8" class="k2" d="M120,867.9 V954.3"/>
<path style="stroke-width:2.2" class="k2" d="M120,876.4 h8.6 M120,883.6 h8.6 M120,889.3 h8.6 M120,895 h8.6 M120,901.4 h8.6 M120,907.1 h8.6 M120,913.6 h8.6 M120,920 h8.6 M120,925 h8.6 M120,931.4 h8.6 M120,937.1 h8.6 M120,942.9 h8.6 M120,948.6 h8.6 M120,953.1 h8.6"/>
<path class="k2" d="M104,903 C102.7,905.8 98.3,913 96,920 C93.7,927 91.5,935.8 90,945 C88.5,954.2 87.5,970 87,975"/>
<path class="k2" d="M110,908 C108.8,910.8 105,918 103,925 C101,932 99.2,941.5 98,950 C96.8,958.5 96.3,971.7 96,976"/>
<path fill="none" stroke="#222" stroke-width="1.6" stroke-dasharray="5 4" d="M107,906 C105.7,909 101.2,917 99,924 C96.8,931 95.3,939.7 94,948 C92.7,956.3 91.5,969.7 91,974"/>
<ellipse cx="109" cy="903" rx="6.5" ry="9" fill="none" stroke="#222" stroke-width="2" transform="rotate(25 109 903)"/>
<ellipse cx="94.3" cy="983.6" rx="10.7" ry="7.9" fill="#e4eaf7" stroke="#222" stroke-width="2"/>
<path style="stroke:#888" class="g" d="M94,978 L93,989 M89,979.5 L86,987 M99,979 L102,987"/>
<path class="k2" d="M77.5,981 L78.6,998 M81.5,982 L82.5,998"/>
<path style="fill:#fff" class="k2" d="M76,1000 Q80,997.5 84.5,1000 L85,1013 Q80.5,1016 75.5,1013 Z"/>
<path style="stroke-width:2.6" class="k3" d="M76.4,1016 Q77,1024 81,1025 Q84.5,1024 84.3,1017"/></g>
<g id="machine"><path style="stroke-width:2.6" class="k2" d="M268.6,783.6 H427.9 M272.9,790.7 H428.6"/>
<path style="stroke-width:2.6" class="k2" d="M264.3,791 V1071"/>
<path style="stroke-width:2" class="k2" d="M268.6,783.6 L255.7,804.3"/>
<path style="stroke-width:2.4" class="k2" d="M268.6,783.6 Q265,786 264.3,791"/>
<path style="stroke-width:4" class="k3" d="M430.8,784 V1066"/>
<path class="k2" d="M427.9,783.6 L430.8,786"/>
<path style="stroke-width:2.2" class="k2" d="M269.3,792 V906 M269.3,904.3 Q300,901.5 344.3,905 M264.3,908 Q300,911 350,909.5 L357,906"/>
<path style="stroke-width:1.8" class="k2" d="M344.3,790.7 V905 M348.6,790.7 V908"/>
<path style="stroke-width:4.6" class="k3" d="M356.8,790.7 V906"/>
<path fill="#465f90" d="M270.7,806.4 L357.9,809.3 V855.7 H270.7 Z"/>
<path fill="#c2e0f5" d="M316.4,808 L357.9,809.3 V837.2 L317.5,835.8 Z"/>
<path fill="none" stroke="#8fa3c8" stroke-width="0.8" d="M317.8,838 V855"/>
<rect x="273.8" y="859.2" width="9.6" height="4.6" rx="2.3" fill="#7fd3ee"/>
<rect x="287.3" y="859.2" width="9.6" height="4.6" rx="2.3" fill="#7fd3ee"/>
<rect x="302.3" y="859.2" width="9.6" height="4.6" rx="2.3" fill="#7fd3ee"/>
<rect x="316.6" y="859.2" width="9.6" height="4.6" rx="2.3" fill="#7fd3ee"/>
<rect x="330.9" y="859.2" width="9.6" height="4.6" rx="2.3" fill="#7fd3ee"/>
<rect x="346.6" y="859.2" width="9.6" height="4.6" rx="2.3" fill="#7fd3ee"/>
<path style="stroke-width:5;stroke:#000" class="k3" d="M263.6,1073.6 Q268,1077.5 277,1078.2 L430,1067.1"/>
<path style="stroke-width:4.6;stroke:#000" class="k3" d="M263.6,1081.4 Q266,1088 273.5,1088.8 L430,1072.5"/>
<path class="k2" d="M267.9,1092.9 L272.5,1100 H293.5 L294.3,1093"/>
<path class="k2" d="M408,1074 L405,1088 L432,1089.3 L435.7,1075 L431,1072"/>
<path style="fill:#fff" class="k2" d="M397.5,822 L412.5,822 L414.3,836 L396.4,838.6 Z"/>
<path style="stroke-width:1.8" class="k2" d="M395.5,830 Q405,832.5 414.5,829.5"/>
<path style="stroke-width:2" class="k2" d="M390.7,838 V930 Q390.5,940 393,945.7 M395.7,840 V940 M410.7,838.6 V930 M415.7,836 V928 Q415.5,938 411,944"/>
<ellipse cx="398.8" cy="874.3" rx="2.6" ry="12.5" style="stroke-width:1.8" class="k2"/>
<ellipse cx="412.3" cy="874.3" rx="2.6" ry="12.5" style="stroke-width:1.8" class="k2"/>
<path class="k2" d="M388,836 Q392,842 414,838.6"/>
<ellipse cx="405.5" cy="954" rx="4.2" ry="7.5" transform="rotate(20 405.5 954)" style="fill:#fff" class="k2"/>
<path class="k2" d="M411,947 L418,943.5"/>
<rect x="374" y="758.5" width="10" height="7" rx="1.5" transform="rotate(35 379 762)" style="fill:#fff;stroke-width:1.9" class="k2"/>
<rect x="371.5" y="772.5" width="10" height="7" rx="1.5" transform="rotate(30 376.5 776)" style="fill:#fff;stroke-width:1.9" class="k2"/>
<rect x="379" y="803" width="10" height="7" rx="1.5" transform="rotate(60 384 806.5)" style="fill:#fff;stroke-width:1.9" class="k2"/>
<path style="stroke-width:1.8" class="k2" d="M384,765 C385.3,766.2 389.7,768.5 392,772 C394.3,775.5 396.3,781.3 398,786 C399.7,790.7 401.1,795 402,800 C402.9,805 403.2,813.3 403.5,816"/>
<path style="stroke-width:1.8" class="k2" d="M381.5,779 C382.9,779.8 387.6,781.2 390,784 C392.4,786.8 394.4,791.7 396,796 C397.6,800.3 398.8,806 399.5,810 C400.2,814 399.9,818.3 400,820"/>
<path style="stroke-width:1.5" class="k2" d="M386,770 C387.3,771.5 391.8,775.3 394,779 C396.2,782.7 397.8,787.5 399,792 C400.2,796.5 401.1,803.7 401.5,806"/>
<path style="stroke-width:1.8" class="k2" d="M386,812 C386.5,813.7 387.8,818.7 389,822 C390.2,825.3 392.3,830.3 393,832"/>
<path style="stroke-width:1.5" class="k2" d="M389,809 C389.7,810.8 391.8,816.5 393,820 C394.2,823.5 395.5,828.3 396,830"/>
<path style="fill:#fff;stroke-width:1.8" class="k2" d="M384,828 Q388,826 394,828.5 L393.5,833 Q388,831 384.5,832.5 Z"/>
<path style="stroke-width:2.2" class="k2" d="M410,784 C411.7,781.7 415.5,775.3 420,770 C424.5,764.7 431.7,756.8 437,752 C442.3,747.2 447.8,742.8 452,741.5 C456.2,740.2 459.5,741.2 462,744 C464.5,746.8 466.8,753 467,758 C467.2,763 465,768.7 463,774 C461,779.3 457.8,785.7 455,790 C452.2,794.3 447.5,798.3 446,800"/>
<path style="stroke-width:2" class="k2" d="M416,788 C417.7,785.7 422,778.7 426,774 C430,769.3 435.7,764 440,760 C444.3,756 449.1,751 452,750 C454.9,749 456.4,751.7 457.5,754 C458.6,756.3 458.9,760 458.5,764 C458.1,768 456.6,773.7 455,778 C453.4,782.3 450,788 449,790"/>
<ellipse cx="443.5" cy="795" rx="5" ry="8" transform="rotate(-25 443.5 795)" style="fill:#fff;stroke-width:2.2" class="k2"/>
<ellipse cx="448" cy="793" rx="2.2" ry="4" transform="rotate(-25 448 793)" style="stroke-width:1.6" class="k2"/>
<ellipse cx="418.5" cy="808" rx="4.5" ry="6" transform="rotate(20 418.5 808)" style="fill:#fff;stroke-width:2.2" class="k2"/>
<path class="k2" d="M422,806 L437,800"/>
<path style="stroke-width:2.1" class="k2" d="M392.9,945.7 C392.2,948.1 390.3,956.2 389,960 C387.7,963.8 388.7,962.9 385,968.3 C381.3,973.7 371.6,984.1 366.8,992.2 C362,1000.3 358.6,1008.8 356.2,1016.9 C353.8,1025 353.2,1036.8 352.6,1040.8"/>
<path style="stroke-width:2.1" class="k2" d="M397.5,947 C396.9,949.5 396.1,956.5 394,962 C391.9,967.5 388.8,973.3 385,979.8 C381.2,986.3 375.3,993.9 371.2,1001 C367.1,1008.1 363,1015.2 360.6,1022.3 C358.2,1029.4 357.6,1040 357,1043.5"/>
<path style="fill:#fff;stroke-width:2.4" class="k2" d="M348.2,1047.9 L363.2,1047 L365,1058.5 L350.8,1060.3Z"/>
<path style="stroke-width:2.4" class="k2" d="M321.6,984.2 C321.6,983.4 321.4,977.3 321.6,976.2 C321.8,975.1 322.4,973.5 323.4,973.1 C324.4,972.7 329.8,972.5 331.4,972.5 C333,972.5 338.3,972.5 339.3,972.9 C340.3,973.3 340.9,975.9 341.1,976.2 L341.1,1047 L344.6,1047.9 L348.2,1047.9"/>
<path style="stroke-width:1.9" class="k2" d="M345.5,986 C345.5,991.1 345.6,1008.8 345.7,1016.9 C345.8,1025 345.6,1029.6 346,1034.6 C346.4,1039.6 347.8,1044.9 348.2,1047"/>
<path class="g" d="M347.7,1062.1 L347.7,1069.2"/>
<path style="stroke-width:2" class="k2" d="M403,985.7 H396 Q394,986 394,990 V1002 Q394,1005.7 397,1005.7 H402"/>
<path style="stroke-width:2" class="k2" d="M409,979 H415 Q417,979 417,983 V1010 Q417,1013.6 414,1013.6 H410"/>
<path style="stroke-width:2.3" class="k2" d="M296.4,1015.2 C296.2,1014 295.6,1007 295.1,1004.6 C294.6,1002.2 292.4,996.5 292.4,994.8 C292.4,993.1 294,991.4 295.1,990.4 C296.2,989.4 300.1,986.7 302.2,986 C304.3,985.3 310.5,984.4 312.8,984.2 C315.1,984 320,984.4 321.6,984.6 C323.2,984.8 325.8,985.1 326.1,986 C326.4,986.9 324.1,990.5 323.8,992.2 C323.5,994 322.9,999.4 323.4,1001 C323.9,1002.6 327.3,1005.7 327.8,1006.3"/>
<path style="stroke-width:2.3" class="k2" d="M296.4,1015.2 C297.5,1014.2 305.3,1013.8 307.5,1013.4 C309.7,1013 316.1,1011.5 318.1,1010.8 C320.1,1010.1 326.5,1005.7 327.8,1006.3 C329.1,1006.9 331.1,1015 331.4,1016.9 C331.7,1018.8 331.8,1024 330.5,1024.9 C329.2,1025.8 320.8,1025.3 318.1,1025.8 C315.4,1026.3 306,1029.7 303.9,1030.2 C301.8,1030.7 297.7,1031.8 296.9,1031.1 C296.1,1030.4 296.2,1024.7 296.2,1023.1 C296.1,1021.5 295.3,1016.2 296.4,1015.2Z"/>
<path style="stroke-width:2.3" class="k2" d="M330.5,1024.9 C331.2,1026.5 334.5,1031 334.9,1034.6 C335.3,1038.1 334.4,1043 333.1,1046.2 C331.8,1049.5 329.4,1052.2 326.9,1054.1 C324.4,1056 321.5,1057.2 318.1,1057.7 C314.7,1058.2 308.5,1057 306.6,1056.8"/>
<path style="stroke-width:2" class="k2" d="M304.4,1037.3 L304.4,1052.3"/>
<path style="stroke-width:1.8;stroke:#444" class="k2" d="M300.4,979.8 C301.6,979.6 305.1,978.4 307.5,978.5 C309.9,978.6 313,979.8 314.6,980.7 C316.2,981.7 316.8,983.6 317.2,984.2"/>
<path style="stroke-width:1.2;stroke:#555" class="k" d="M299.1,1016.9 L300.4,1029.3 M301.3,1016.5 L303.1,1028.5 M321.6,1011.6 L324.3,1023.1 M325.2,1009.9 L328,1022.3"/>
<path style="stroke-width:1.3;stroke:#333" class="k" d="M303.9,1022.3 C303.3,1021.2 305.2,1017.8 306.6,1016.9 C308,1016 312.8,1015.2 314.6,1015.2 C316.4,1015.2 319.3,1016 319.9,1016.9 C320.5,1017.8 320.2,1021.2 319,1022.3 C317.8,1023.4 313,1024.9 311,1024.9 C309,1024.9 304.5,1023.4 303.9,1022.3Z"/>
<ellipse cx="313.2" cy="1020" rx="4" ry="3.4" transform="rotate(-15 313.2 1020)" fill="#111"/>
<path style="stroke-width:2" class="k2" d="M280,1037.3 C281.9,1040.5 288.4,1052.1 291.5,1056.8 C294.6,1061.5 297,1062.5 298.6,1065.6 C300.2,1068.7 300.9,1073.8 301.3,1075.4"/>
<path style="stroke-width:2" class="k2" d="M244.3,760 V978 M247.5,900 V978"/>
<path style="stroke:#444" class="g" d="M251.4,700 V978"/>
<path class="k2" d="M242,976 H258"/>
<path style="stroke-width:1.8;fill:#fff" class="k2" d="M240,980 Q238,996 240,1012 L246,1014 Q244,996 246,980 Z"/>
<path style="stroke-width:1.8" class="k2" d="M246,980 H258 L260.7,986 V1012 L258,1014.3 H246"/>
<path fill="#555" d="M242,1016.5 H258.8 L257,1023 H245 Z"/>
<path fill="#555" d="M260,986 h2.5 v20 h-2.5 Z"/>
<rect x="246.5" y="1025" width="6" height="3.4" rx="1.5" fill="#333"/>
<path style="stroke-width:1.6" class="k" d="M248.6,1028.6 C248.7,1031.3 248.3,1039.4 249,1045 C249.7,1050.6 250.7,1056.7 253,1062 C255.3,1067.3 261.2,1074.5 262.9,1077"/></g>
<g id="filt"><path style="stroke:#666" class="g" d="M286.8,516 V678 M294,520 V678 M316,516 V678 M325.1,516 V678"/>
<path class="g" d="M294,534.4 H316.3 M294,534.4 L287,539.8 M316.3,534.4 L325,539.8"/>
<path style="stroke-width:1.3" class="k" d="M302.8,572.5 H323 M302.8,572.5 V621.5 M321.7,572.5 V600"/>
<path class="g" d="M287,622.4 H360.5 M287,654 H367.3 M287,640 H300"/>
<path class="g" d="M287,654 C289.2,653.6 295.7,651.9 300,651.5 C304.3,651.1 308.8,651.1 313,651.5 C317.2,651.9 323,653.6 325,654"/>
<path class="g" d="M294,668 C295.8,668.2 301.3,669.7 305,669.5 C308.7,669.3 313.3,668.1 316,667 C318.7,665.9 320.2,663.7 321,663"/>
<path style="stroke-width:3.4" class="k3" d="M364.6,624 V654"/>
<path class="k" d="M360.5,622.4 L364.6,624 M364.6,654 L367.3,654"/>
<path style="stroke:#777;stroke-width:1.6" class="g" d="M365,625.7 H423 L425.2,624 L444.2,638.3 L437.4,650 H365"/>
<path style="stroke-width:1.6" class="k" d="M365,632.2 H421 L436.5,639 L431,645.8 H365"/>
<path style="stroke:#999" class="g" d="M366,629 H422 M366,648 H434"/>
<path style="stroke-width:2.6" class="k3" d="M285.6,517.3 L271.3,522.1 L271.3,535.7 L285.6,541.2"/>
<path fill="#ee1c24" stroke="#c4141a" stroke-width="1" d="M284.3,503 C284.9,501.5 287.1,499.3 289,498.3 C290.9,497.3 296.2,495.7 298.6,495.2 C301,494.7 304.3,494.2 306.7,494.2 C309.1,494.2 313.9,494.7 316.3,495.2 C318.7,495.7 322.8,497.3 324.4,498.3 C326,499.3 327.9,501.5 328.5,503 C329.1,504.5 329.4,508.3 329.2,509.9 C329,511.5 328.4,514.8 327.2,515.3 C326,515.8 322.4,513.9 320.4,513.3 C318.4,512.7 314.2,511.4 312.2,510.9 C310.2,510.4 307.4,509.8 305.4,509.9 C303.4,510 299.6,510.8 297.2,511.5 C294.8,512.2 289.4,515.5 287.7,515.3 C286,515.1 284.8,511.5 284.3,509.9 C283.8,508.3 283.7,504.5 284.3,503Z"/>
<path fill="#ee1c24" stroke="#a01015" stroke-width="0.8" d="M300.5,478 L315.5,478 L314.5,493 L300,493 Z"/>
<path fill="none" stroke="#8a0d12" stroke-width="1.2" d="M301,482 L315,481 M300.8,486 L315,485 M300.6,490 L314.8,489"/>
<path fill="#ee1c24" stroke="#b01218" stroke-width="1" d="M297.2,465.6 C299.3,465.3 314.7,465.3 316.9,465.6 C319.1,465.9 318.8,468 319,469 C319.2,470 319,474.8 318.7,475.8 C318.4,476.8 318.4,478.5 316.3,478.8 C314.2,479.1 299.9,479.1 297.9,478.8 C295.8,478.5 296,476.8 295.8,475.8 C295.6,474.8 296,470 296.1,469 C296.2,468 295.1,465.9 297.2,465.6Z"/>
<path fill="#3585c0" stroke="#2a6ea6" stroke-width="1.2" d="M284.9,679.9 C286.4,679.1 291.6,681.8 294.5,682.3 C297.4,682.8 303.4,683.9 306.7,683.9 C310,683.9 316.1,682.9 319,682.3 C321.9,681.7 327,678.4 328.5,679.2 C330,680 329.9,685.5 329.9,688 C329.9,690.5 330,695.9 328.5,697.6 C327,699.3 321.9,700.3 319,701 C316.1,701.7 310,702.5 306.7,702.6 C303.4,702.7 297.4,702 294.5,701.4 C291.6,700.8 286.4,699.6 284.9,697.8 C283.4,696 283.6,690.4 283.6,688 C283.6,685.6 283.4,680.7 284.9,679.9Z"/>
<path class="g" d="M302,702.5 V716.6 M312.8,702.5 V716.6"/>
<path style="stroke:#888" class="g" d="M300,717.3 H315.5 L317.6,721 V733.6 H297.2 V722 Z"/>
<path style="stroke:#888" class="g" d="M304.7,734 V747 M313.5,734 V747 M304.7,747 H313.5"/>
<path class="g" d="M308,704 V716"/>
<rect x="349.3" y="728.6" width="15.6" height="7.6" rx="1.5" fill="#fff" stroke="#222" stroke-width="2.4"/>
<path style="stroke-width:3" class="k3" d="M357.1,736.4 V783"/>
<path style="stroke-width:2.2" class="k2" d="M250.2,980 V690 C250.2,672 256,660.5 270,658.5"/>
<path style="stroke-width:1.8" class="k2" d="M256.3,980 V692 C256.3,678 261,668 274,665.5"/>
<ellipse cx="282" cy="661.5" rx="8.6" ry="4.6" transform="rotate(-6 282 661.5)" fill="#fff" stroke="#222" stroke-width="2.2"/>
<path class="k2" d="M268,658.8 L274,657.8 M268,664.8 L274,665.6"/></g>
<g id="lines"><path class="bl" d="M896.2,599 V13.3 H227.3 V1101.6 Q227.3,1113.6 239.3,1113.6 H360 Q372.5,1113.6 372.5,1101.6 L372.5,1085 C372.1,1083.1 371.7,1076.7 370.3,1073.6 C368.9,1070.5 366.3,1068.2 364.1,1066.5 C361.9,1064.8 360.2,1064.1 357,1063.4 C353.8,1062.7 349.6,1062.9 344.6,1062.5 C339.6,1062.1 333.1,1062.5 326.9,1061.2 C320.7,1060 313.4,1057.8 307.5,1055 C301.6,1052.2 296.1,1048.7 291.5,1044.4 C286.9,1040.1 282.5,1034.2 280,1029.3 C277.5,1024.4 276.6,1019.6 276.5,1015.2 C276.4,1010.8 277,1007.4 279.2,1002.8 C281.4,998.2 285.1,992.4 289.8,987.7 C294.5,983 301.3,977.9 307.5,974.5 C313.7,971.1 320.7,968.9 326.9,967.4 C333.1,965.9 339.4,965.9 344.6,965.6 C349.8,965.3 355.8,965.6 358,965.6 H365 V766 H309.1 V747"/>
<path fill="none" stroke="#2a78b8" stroke-width="3.7" d="M894.3,597.9 H1211"/>
<path fill="none" stroke="#d8ecfa" stroke-width="1.9" d="M898.5,597.9 H1208"/>
<circle cx="1211.5" cy="598" r="2.6" fill="#1f74b1"/>
<path class="rd" d="M306.5,480 V429.8 H340.1 V639 H406.8 V820"/>
<path class="rd" d="M402.3,960.7 V1118.6 H474.8 V805.4 L821.2,802.9 V343.3 H431.2"/>
<path fill="none" stroke="#ec1016" stroke-width="3.3" stroke-linecap="round" d="M821.2,803.3 H1120 L1135.4,804 C1146,804 1152,803 1158,800.9 C1166,797.5 1171,793 1176,787.4 C1182,780.5 1186,774 1189.6,767 C1194.5,757 1198,747 1200.9,735.4 C1204.5,721 1207,706 1208.8,690.3 C1210.5,675 1211.5,660 1212,645 C1212.3,630 1211.5,618 1210,606"/>
<circle cx="1209.6" cy="604.5" r="2.4" fill="#f0401a"/></g>
<g id="text"><rect style="stroke-width:3.4;stroke-dasharray:29 14" class="bx" x="949.5" y="15.8" width="554" height="255.2"/>
<rect style="stroke-width:1.7;stroke-dasharray:24 11" class="bx" x="367.8" y="439.3" width="366.4" height="169.2"/>
<rect style="stroke-width:3.4;stroke-dasharray:29 14" class="bx" x="13.3" y="1165.8" width="662.3" height="233"/>
<rect style="stroke-width:3.4;stroke-dasharray:29 14" class="bx" x="839" y="1165.2" width="894.5" height="286.5"/>
<path transform="translate(968 80)" d="M0.6,-19 L7.6,-23.6 L16.6,-3.5 L21.4,-40.6 L22.9,-40.6 L16.9,1 L15.5,1 L5.7,-20.6 L1.3,-17.7Z"/>
<text x="992.15" y="80">.Catheter properties</text>
<path transform="translate(968 132.5)" d="M0.6,-19 L7.6,-23.6 L16.6,-3.5 L21.4,-40.6 L22.9,-40.6 L16.9,1 L15.5,1 L5.7,-20.6 L1.3,-17.7Z"/>
<text x="992.15" y="132.5">.The placement site of the</text>
<text x="968" y="185">catheter</text>
<path transform="translate(968 238)" d="M0.6,-19 L7.6,-23.6 L16.6,-3.5 L21.4,-40.6 L22.9,-40.6 L16.9,1 L15.5,1 L5.7,-20.6 L1.3,-17.7Z"/>
<text x="992.15" y="238">.Catheter types</text>
<path transform="translate(375 489)" d="M0.6,-19 L7.6,-23.6 L16.6,-3.5 L21.4,-40.6 L22.9,-40.6 L16.9,1 L15.5,1 L5.7,-20.6 L1.3,-17.7Z"/>
<text x="399.15" y="489">.The filter material</text>
<path transform="translate(375 542)" d="M0.6,-19 L7.6,-23.6 L16.6,-3.5 L21.4,-40.6 L22.9,-40.6 L16.9,1 L15.5,1 L5.7,-20.6 L1.3,-17.7Z"/>
<text x="399.15" y="542">.The haemofilter</text>
<path transform="translate(375 595)" d="M0.6,-19 L7.6,-23.6 L16.6,-3.5 L21.4,-40.6 L22.9,-40.6 L16.9,1 L15.5,1 L5.7,-20.6 L1.3,-17.7Z"/>
<text x="399.15" y="595">.Membrane</text>
<path transform="translate(37 1215)" d="M0.6,-19 L7.6,-23.6 L16.6,-3.5 L21.4,-40.6 L22.9,-40.6 L16.9,1 L15.5,1 L5.7,-20.6 L1.3,-17.7Z"/>
<text x="61.15" y="1215">.CRRT mode, Pre vs post dilution</text>
<text x="37" y="1268.5">and CRRT dose</text>
<path transform="translate(37 1321.5)" d="M0.6,-19 L7.6,-23.6 L16.6,-3.5 L21.4,-40.6 L22.9,-40.6 L16.9,1 L15.5,1 L5.7,-20.6 L1.3,-17.7Z"/>
<text x="61.15" y="1321.5">.Blood flow</text>
<path transform="translate(37 1373)" d="M0.6,-19 L7.6,-23.6 L16.6,-3.5 L21.4,-40.6 L22.9,-40.6 L16.9,1 L15.5,1 L5.7,-20.6 L1.3,-17.7Z"/>
<text x="61.15" y="1373">.Effluent volume</text>
<path transform="translate(858 1218)" d="M0.6,-19 L7.6,-23.6 L16.6,-3.5 L21.4,-40.6 L22.9,-40.6 L16.9,1 L15.5,1 L5.7,-20.6 L1.3,-17.7Z"/>
<text x="882.15" y="1218">.CRRT system management and staff education</text>
<text x="867" y="1271.5">Interventions</text>
<path transform="translate(858 1324)" d="M0.6,-19 L7.6,-23.6 L16.6,-3.5 L21.4,-40.6 L22.9,-40.6 L16.9,1 L15.5,1 L5.7,-20.6 L1.3,-17.7Z"/>
<text x="882.15" y="1324">.Patient factors</text>
<path transform="translate(858 1376.5)" d="M0.6,-19 L7.6,-23.6 L16.6,-3.5 L21.4,-40.6 L22.9,-40.6 L16.9,1 L15.5,1 L5.7,-20.6 L1.3,-17.7Z"/>
<text x="882.15" y="1376.5">.The primary disease condition of patients</text>
<path transform="translate(858 1429)" d="M0.6,-19 L7.6,-23.6 L16.6,-3.5 L21.4,-40.6 L22.9,-40.6 L16.9,1 L15.5,1 L5.7,-20.6 L1.3,-17.7Z"/>
<text x="882.15" y="1429">.Early rehabilitation and mobilization</text></g>
</svg>
</body></html>
